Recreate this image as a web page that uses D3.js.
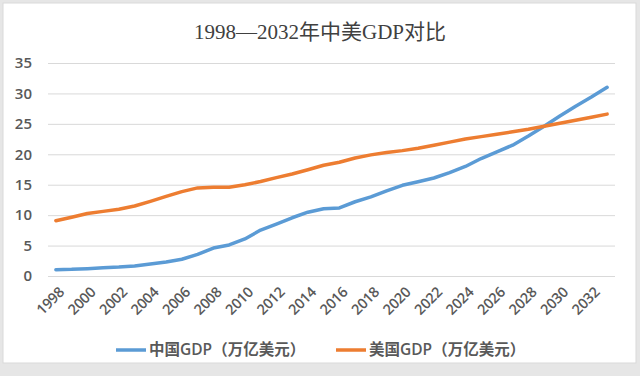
<!DOCTYPE html>
<html>
<head>
<meta charset="utf-8">
<script src="https://cdn.jsdelivr.net/npm/d3@7"></script>
<style>
  body { margin: 0; background: #e6e6e6; }
  svg { display: block; }
</style>
</head>
<body>
<svg id="chart" width="640" height="376"></svg>
<script>
// years 1998..2033 (axis labels every 2 years)
const years = d3.range(1998, 2034);
const chinaGDP = [1.03, 1.09, 1.21, 1.34, 1.47, 1.66, 1.96, 2.29, 2.75, 3.55,
  4.59, 5.10, 6.09, 7.55, 8.53, 9.57, 10.48, 11.06, 11.19, 12.2,
  13.0, 14.0, 14.9, 15.5, 16.1, 17.0, 18.0, 19.3, 20.4, 21.5,
  23.0, 24.6, 26.3, 27.9, 29.4, 31.0];
const usGDP = [9.09, 9.66, 10.28, 10.62, 10.98, 11.51, 12.27, 13.09, 13.86, 14.48,
  14.6, 14.6, 15.0, 15.52, 16.16, 16.75, 17.45, 18.2, 18.7, 19.4,
  19.9, 20.3, 20.6, 21.0, 21.5, 22.0, 22.5, 22.9, 23.3, 23.7,
  24.1, 24.6, 25.1, 25.6, 26.1, 26.6];
const yTicks = [0, 5, 10, 15, 20, 25, 30, 35];
const seriesNames = ["中国GDP（万亿美元）", "美国GDP（万亿美元）"];
const seriesColors = ["#5b9bd5", "#ed7d31"];

let svg = d3.select("#chart");

// chart box
svg.append("rect")
  .attr("x", 3).attr("y", 3)
  .attr("width", 633).attr("height", 360)
  .attr("fill", "#fff")
  .attr("stroke", "#d9d9d9");

svg.append("text")
  .attr("x", 320).attr("y", 39)
  .attr("text-anchor", "middle")
  .style("font-family", "'Liberation Serif', 'Noto Sans CJK SC', serif")
  .style("font-size", "21px")
  .attr("fill", "#404040")
  .text("1998—2032年中美GDP对比");

let margin = { left: 48, right: 615, top: 63, bottom: 276 };

let xScale = d3.scaleBand()
  .domain(years)
  .range([margin.left, margin.right]);

let yScale = d3.scaleLinear()
  .domain([0, 35])
  .range([margin.bottom, margin.top]);

// grid
svg.append("g")
  .selectAll("line")
  .data(yTicks)
  .enter().append("line")
  .attr("x1", margin.left).attr("x2", margin.right)
  .attr("y1", d => yScale(d) + 0.5).attr("y2", d => yScale(d) + 0.5)
  .attr("stroke", "#d9d9d9")
  .attr("stroke-width", 1);

// y axis labels
let yAxis = d3.axisLeft(yScale).tickValues(yTicks).tickSize(0).tickPadding(0);
let gy = svg.append("g")
  .attr("transform", "translate(32,0)")
  .call(yAxis);
gy.select(".domain").remove();
gy.selectAll("text")
  .style("font-family", "'Open Sans', sans-serif")
  .style("font-size", "15px")
  .style("font-weight", "600")
  .attr("fill", "#595959");

// x axis labels
let xAxis = d3.axisBottom(xScale)
  .tickValues(years.filter(y => (y - 1998) % 2 === 0))
  .tickSize(0).tickPadding(0);
let gx = svg.append("g")
  .attr("transform", "translate(0," + (margin.bottom + 12) + ")")
  .call(xAxis);
gx.select(".domain").remove();
gx.selectAll("text")
  .style("font-family", "'Open Sans', sans-serif")
  .style("font-size", "14.5px")
  .style("font-weight", "600")
  .style("letter-spacing", "-0.3px")
  .attr("fill", "#595959")
  .attr("text-anchor", "end")
  .attr("dy", "0.7em")
  .attr("dx", "0.2em")
  .attr("y", 0)
  .attr("transform", "rotate(-45)");

// lines
let line = d3.line()
  .x((d, i) => xScale(years[i]) + xScale.bandwidth() / 2)
  .y(d => yScale(d));

[chinaGDP, usGDP].forEach((s, i) => {
  svg.append("path")
    .datum(s)
    .attr("d", line)
    .attr("fill", "none")
    .attr("stroke", seriesColors[i])
    .attr("stroke-width", 3.5)
    .attr("stroke-linejoin", "round")
    .attr("stroke-linecap", "round");
});

// legend
let legendX = [116, 336];
let legend = svg.selectAll(".legend")
  .data(seriesNames)
  .enter().append("g")
  .attr("class", "legend")
  .attr("transform", (d, i) => "translate(" + legendX[i] + ",350)");

legend.append("line")
  .attr("x1", 0).attr("x2", 30)
  .attr("stroke", (d, i) => seriesColors[i])
  .attr("stroke-width", 3.5);

legend.append("text")
  .attr("x", 33).attr("y", 0)
  .attr("dy", "0.35em")
  .style("font-family", "'Open Sans', 'Noto Sans CJK SC', sans-serif")
  .style("font-size", "15.5px")
  .style("font-weight", "600")
  .attr("fill", "#595959")
  .text(d => d);
</script>
</body>
</html>
